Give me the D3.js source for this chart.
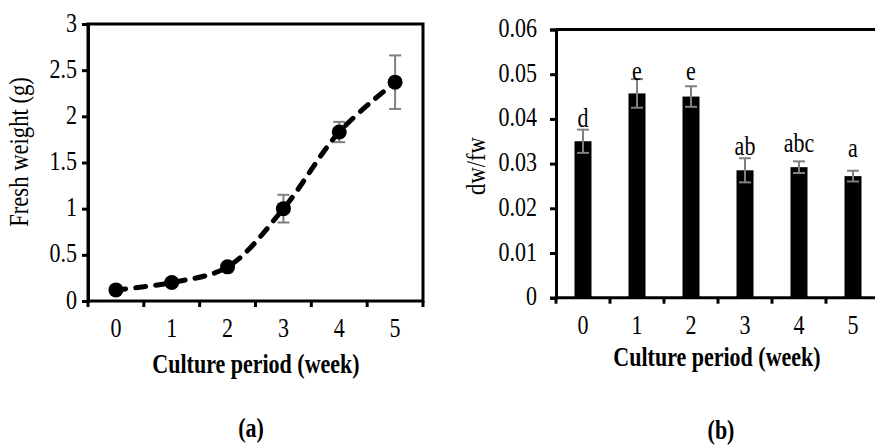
<!DOCTYPE html>
<html>
<head>
<meta charset="utf-8">
<script src="https://cdn.jsdelivr.net/npm/d3@7"></script>
<style>
  body { margin: 0; background: #fff; }
  text { font-family: "Liberation Serif", "Times New Roman", serif; fill: #000; }
</style>
</head>
<body>
<div id="chart"></div>
<script>
// data
const weeks = ['0', '1', '2', '3', '4', '5'];
const freshWeight = [0.12, 0.20, 0.37, 1.00, 1.83, 2.37];
const freshWeightErr = [0.02, 0.02, 0.03, 0.15, 0.11, 0.29];
const fwTicks = [0, 0.5, 1, 1.5, 2, 2.5, 3];

const dwfw = [0.0350, 0.0457, 0.0450, 0.0285, 0.0292, 0.0272];
const dwfwErr = [0.0026, 0.0032, 0.0023, 0.0027, 0.0013, 0.0012];
const dwfwLetters = ['d', 'e', 'e', 'ab', 'abc', 'a'];
const letterLevel = [0.0382, 0.0487, 0.0487, 0.0319, 0.0326, 0.0315]; // baseline of the letters, in data units
const dwTicks = [0, 0.01, 0.02, 0.03, 0.04, 0.05, 0.06];

const svg = d3.select('#chart').append('svg')
    .attr('width', 875)
    .attr('height', 446);

const stretch = 1.25; // the source figure's text is a bit taller than wide

// horizontal text, stretched vertically around its baseline
function label(x, y, str, size, bold) {
    return svg.append('text')
        .attr('transform', `translate(${x},${y}) scale(1,${stretch})`)
        .attr('text-anchor', 'middle')
        .style('font-size', size + 'px')
        .style('font-weight', bold ? 'bold' : 'normal')
        .text(str);
}

function styleAxis(g) {
    g.select('.domain').attr('stroke-width', 3);
    g.selectAll('line').attr('stroke-width', 3);
    g.selectAll('text')
        .style('font-size', '22px')
        .attr('dy', null)
        .attr('y', 0)
        .attr('transform', function () {
            return `translate(${d3.select(this).attr('x')},7) scale(1,${stretch})`;
        })
        .attr('x', 0);
}

// ---------- (a) fresh weight line chart ----------
const xA = d3.scaleBand().domain(weeks).range([88, 423]).padding(0);
const yA = d3.scaleLinear().domain([0, 3]).range([301, 24]);

// box
svg.append('rect')
    .attr('x', xA.range()[0]).attr('y', yA(3))
    .attr('width', xA.range()[1] - xA.range()[0])
    .attr('height', yA(0) - yA(3))
    .attr('fill', 'none').attr('stroke', '#000').attr('stroke-width', 3);

const yAxisA = svg.append('g')
    .attr('transform', `translate(${xA.range()[0]},0)`)
    .call(d3.axisLeft(yA).tickValues(fwTicks).tickSize(6).tickPadding(5).tickFormat(d3.format('')));
styleAxis(yAxisA);

// x ticks at the band edges (excel style)
const edgesA = weeks.map(w => xA(w)).concat([xA.range()[1]]);
edgesA.forEach(x =>
    svg.append('line')
        .attr('x1', x).attr('x2', x)
        .attr('y1', yA(0)).attr('y2', yA(0) + 6)
        .attr('stroke', '#000').attr('stroke-width', 3)
);
weeks.forEach(w => label(xA(w) + xA.bandwidth() / 2, 337, w, 22));

// error bars
weeks.forEach((w, i) => {
    let cx = xA(w) + xA.bandwidth() / 2;
    let lo = yA(freshWeight[i] - freshWeightErr[i]);
    let hi = yA(freshWeight[i] + freshWeightErr[i]);
    svg.append('line').attr('x1', cx).attr('x2', cx).attr('y1', lo).attr('y2', hi)
        .attr('stroke', '#808080').attr('stroke-width', 2);
    [lo, hi].forEach(y =>
        svg.append('line').attr('x1', cx - 6).attr('x2', cx + 6).attr('y1', y).attr('y2', y)
            .attr('stroke', '#808080').attr('stroke-width', 2)
    );
});

const lineA = d3.line()
    .x((d, i) => xA(weeks[i]) + xA.bandwidth() / 2)
    .y(d => yA(d))
    .curve(d3.curveCatmullRom.alpha(0.5));

svg.append('path')
    .datum(freshWeight)
    .attr('d', lineA)
    .attr('fill', 'none')
    .attr('stroke', '#000')
    .attr('stroke-width', 5)
    .attr('stroke-linecap', 'round')
    .attr('stroke-dasharray', '10,10');

svg.selectAll('circle.pt')
    .data(freshWeight)
    .enter().append('circle')
    .attr('class', 'pt')
    .attr('cx', (d, i) => xA(weeks[i]) + xA.bandwidth() / 2)
    .attr('cy', d => yA(d))
    .attr('r', 7.5)
    .attr('fill', '#000');

svg.append('text')
    .attr('transform', 'translate(28,152) rotate(-90) scale(1.03,1.2)')
    .attr('text-anchor', 'middle')
    .style('font-size', '22px')
    .text('Fresh weight (g)');

label(256, 373, 'Culture period (week)', 22, true);
label(251, 437, '(a)', 22, true);

// ---------- (b) dw/fw bar chart ----------
const xB = d3.scaleBand().domain(weeks).range([556, 880]).padding(0);
const yB = d3.scaleLinear().domain([0, 0.06]).range([297.7, 29.5]);
const barW = 17;

svg.append('line')
    .attr('x1', xB.range()[0]).attr('x2', 875)
    .attr('y1', yB(0.06)).attr('y2', yB(0.06))
    .attr('stroke', '#000').attr('stroke-width', 3);
svg.append('line')
    .attr('x1', xB.range()[0]).attr('x2', 875)
    .attr('y1', yB(0)).attr('y2', yB(0))
    .attr('stroke', '#000').attr('stroke-width', 3);

const yAxisB = svg.append('g')
    .attr('transform', `translate(${xB.range()[0]},0)`)
    .call(d3.axisLeft(yB).tickValues(dwTicks).tickSize(6).tickPadding(13).tickFormat(d => d === 0 ? '0' : d3.format('.2f')(d)));
styleAxis(yAxisB);

const edgesB = weeks.map(w => xB(w)).concat([xB.range()[1]]);
edgesB.forEach(x =>
    svg.append('line')
        .attr('x1', x).attr('x2', x)
        .attr('y1', yB(0)).attr('y2', yB(0) + 6)
        .attr('stroke', '#000').attr('stroke-width', 3)
);
weeks.forEach(w => label(xB(w) + xB.bandwidth() / 2, 334, w, 22));

svg.selectAll('rect.bar')
    .data(dwfw)
    .enter().append('rect')
    .attr('class', 'bar')
    .attr('x', (d, i) => xB(weeks[i]) + xB.bandwidth() / 2 - barW / 2)
    .attr('y', d => yB(d))
    .attr('width', barW)
    .attr('height', d => yB(0) - yB(d))
    .attr('fill', '#000');

weeks.forEach((w, i) => {
    let cx = xB(w) + xB.bandwidth() / 2;
    let lo = yB(dwfw[i] - dwfwErr[i]);
    let hi = yB(dwfw[i] + dwfwErr[i]);
    svg.append('line').attr('x1', cx).attr('x2', cx).attr('y1', lo).attr('y2', hi)
        .attr('stroke', '#808080').attr('stroke-width', 2);
    [lo, hi].forEach(y =>
        svg.append('line').attr('x1', cx - 6).attr('x2', cx + 6).attr('y1', y).attr('y2', y)
            .attr('stroke', '#808080').attr('stroke-width', 2)
    );
    label(cx, yB(letterLevel[i]), dwfwLetters[i], 22);
});

svg.append('text')
    .attr('transform', 'translate(485,166) rotate(-90) scale(1.03,1.2)')
    .attr('text-anchor', 'middle')
    .style('font-size', '22px')
    .text('dw/fw');

label(717, 366, 'Culture period (week)', 22, true);
label(721, 439, '(b)', 22, true);
</script>
</body>
</html>
